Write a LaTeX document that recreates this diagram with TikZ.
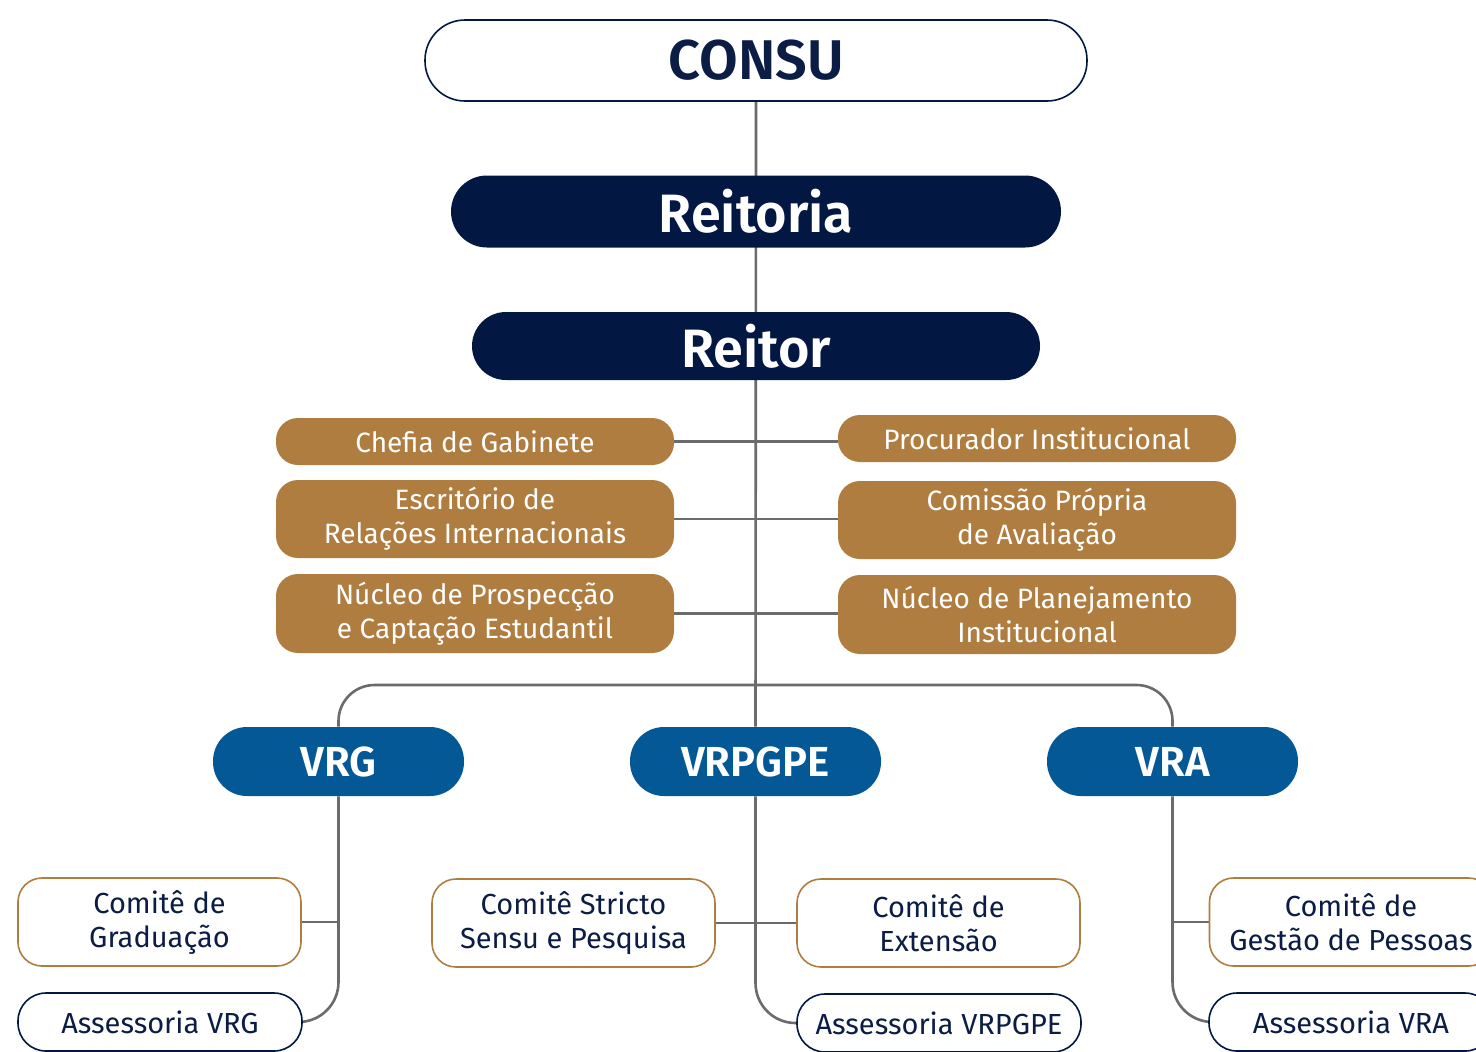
\documentclass[tikz,border=0pt]{standalone}
\usepackage{fontspec}
\setmainfont{Fira Sans}[BoldFont={Fira Sans SemiBold}]
\usetikzlibrary{backgrounds}
\definecolor{navy}{HTML}{021843}
\definecolor{gold}{HTML}{B07D41}
\definecolor{vblue}{HTML}{045896}
\definecolor{txtnavy}{HTML}{0B1D45}
\definecolor{lgray}{HTML}{6B6B6B}
\tikzset{
  conn/.style={draw=lgray, line width=1.3pt},
  topbox/.style={draw=navy, line width=0.8pt, fill=white, text=txtnavy, font=\fontsize{28}{30}\selectfont\bfseries, minimum width=331pt, minimum height=40.5pt, inner sep=0pt, rounded corners=20pt},
  darkbox/.style={fill=navy, text=white, font=\fontsize{27}{30}\selectfont\bfseries, minimum height=36pt, inner sep=0pt, rounded corners=18pt},
  goldbox/.style={fill=gold, text=white, font=\fontsize{14}{17}\selectfont, align=center, minimum width=199pt, inner sep=0pt, rounded corners=11pt},
  bluebox/.style={fill=vblue, text=white, font=\fontsize{21}{24}\selectfont\bfseries, minimum width=125.5pt, minimum height=34.5pt, inner sep=0pt, rounded corners=17pt},
  combox/.style={draw=gold, line width=0.8pt, fill=white, text=txtnavy, font=\fontsize{14.5}{17}\selectfont, align=center, minimum width=141.5pt, minimum height=44pt, inner sep=0pt, rounded corners=12pt},
  assbox/.style={draw=navy, line width=0.8pt, fill=white, text=txtnavy, font=\fontsize{14.5}{17}\selectfont, minimum width=142pt, minimum height=29pt, inner sep=0pt, rounded corners=14pt},
}
\begin{document}
\begin{tikzpicture}[x=0.5pt,y=-0.5pt]
\useasboundingbox (0,0) rectangle (1476,1051);
\clip (0,0) rectangle (1476,1051);
% top
\node[topbox] (consu) at (756,60.5) {CONSU};
\node[darkbox, minimum width=305pt] (reitoria) at (756,211.5) {Reitoria};
\node[darkbox, minimum width=284pt, minimum height=34pt, rounded corners=17pt] (reitor) at (756,346) {Reitor};
% gold
\node[goldbox, minimum height=23.5pt] (chefia) at (475,441.5) {Chefia de Gabinete};
\node[goldbox, minimum height=39pt] (escr) at (475,519) {Escritório de\\Relações Internacionais};
\node[goldbox, minimum height=39.5pt] (nucp) at (475,613.5) {Núcleo de Prospecção\\e Captação Estudantil};
\node[goldbox, minimum height=23.5pt] (proc) at (1037,438.5) {Procurador Institucional};
\node[goldbox, minimum height=39pt] (cpa) at (1037,520) {Comissão Própria\\de Avaliação};
\node[goldbox, minimum height=39.5pt] (nucpl) at (1037,614.5) {Núcleo de Planejamento\\Institucional};
% blue
\node[bluebox] (vrg) at (338.5,761.5) {VRG};
\node[bluebox] (vrpgpe) at (755.5,761.5) {VRPGPE};
\node[bluebox] (vra) at (1172.5,761.5) {VRA};
% committees
\node[combox] (cgrad) at (159.5,922) {Comitê de\\Graduação};
\node[assbox] (assvrg) at (160,1022) {Assessoria VRG};
\node[combox] (cstr) at (573.5,923) {Comitê Stricto\\Sensu e Pesquisa};
\node[combox] (cext) at (938.5,923) {Comitê de\\Extensão};
\node[assbox] (assvrpgpe) at (939,1023) {Assessoria VRPGPE};
\node[combox] (cgest) at (1351,922) {Comitê de\\Gestão de Pessoas};
\node[assbox] (assvra) at (1351,1022) {Assessoria VRA};
\coordinate (bar) at (756,685);
\begin{scope}[on background layer]
\fill[white] (0,0) rectangle (1476,1051);
\draw[conn] (consu.south) -- (vrpgpe.north);
\draw[conn] (chefia.east) -- (chefia.east -| proc.west);
\draw[conn] (escr.east) -- (escr.east -| cpa.west);
\draw[conn] (nucp.east) -- (nucp.east -| nucpl.west);
\draw[conn, rounded corners=18pt] (vrg.north) |- (bar) -| (vra.north);
\draw[conn, rounded corners=20pt] (vrg.south) |- (assvrg.east);
\draw[conn] (cgrad.east) -- (cgrad.east -| vrg.south);
\draw[conn, rounded corners=20pt] (vrpgpe.south) |- (assvrpgpe.west);
\draw[conn] (cstr.east) -- (cext.west);
\draw[conn, rounded corners=20pt] (vra.south) |- (assvra.west);
\draw[conn] (cgest.west) -- (cgest.west -| vra.south);
\end{scope}
\end{tikzpicture}
\end{document}
